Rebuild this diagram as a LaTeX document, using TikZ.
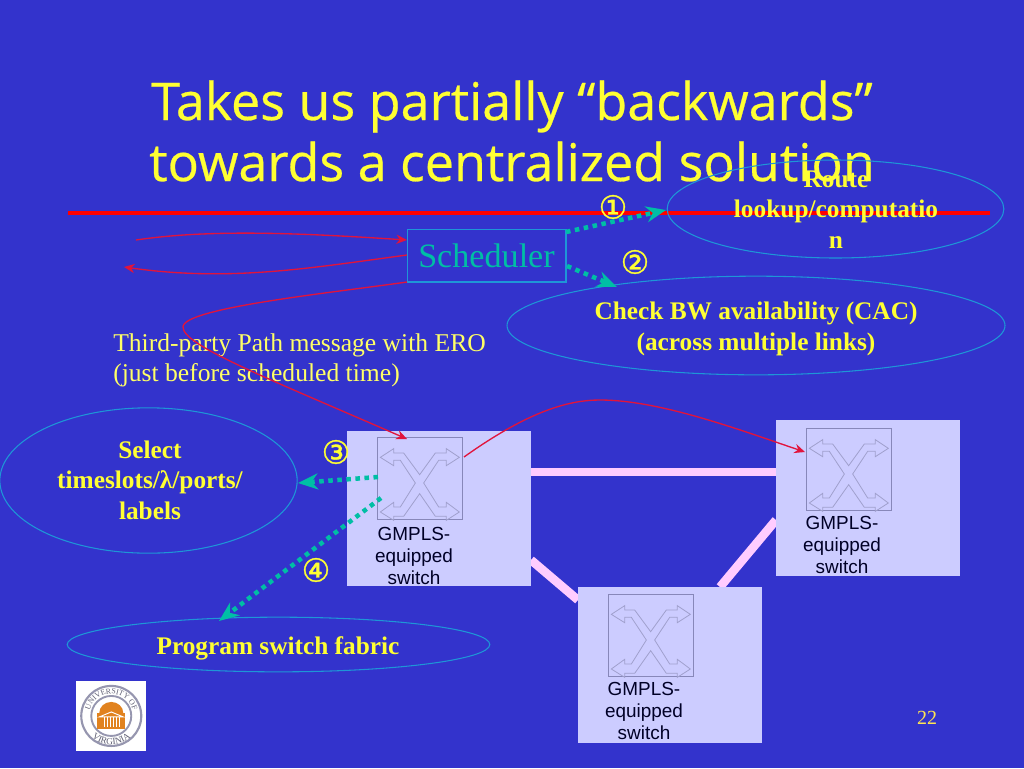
\documentclass[tikz,border=0pt]{standalone}
\usepackage{fontspec}
\setmainfont{Liberation Serif}
\newfontfamily\titlefont[FakeBold=0.5]{Open Sans}
\newfontfamily\armfont{Liberation Sans}
\newfontfamily\symfont[FakeBold=1.0]{DejaVu Sans}
\usetikzlibrary{arrows.meta,decorations.text,shapes.geometric}
\definecolor{bgblue}{RGB}{51,51,204}
\definecolor{ttl}{RGB}{255,255,51}
\definecolor{bodyy}{RGB}{255,255,102}
\definecolor{teal1}{RGB}{0,190,165}
\definecolor{edge}{RGB}{30,150,215}
\definecolor{boxc}{RGB}{204,204,255}
\definecolor{pinkl}{RGB}{255,204,255}
\definecolor{redc}{RGB}{225,20,60}
\definecolor{graysw}{RGB}{135,135,185}
\definecolor{grayx}{RGB}{160,160,205}
\definecolor{sealring}{RGB}{150,150,175}
\definecolor{sealtext}{RGB}{95,95,115}
\definecolor{sealorange}{RGB}{225,130,30}
\tikzset{
 x=0.75pt,y=-0.75pt,
 titletext/.style={font=\titlefont\fontsize{39}{45.75}\selectfont,text=ttl,inner sep=0pt,align=center},
 oval/.style={draw=edge,line width=0.8pt,shape=ellipse,inner sep=0pt},
 ovaltext/.style={font=\bfseries\fontsize{19}{23}\selectfont,text=ttl,align=center,inner sep=0pt},
 bodytext/.style={font=\fontsize{19.2}{22.5}\selectfont,text=bodyy,align=left,inner sep=0pt},
 swbox/.style={fill=boxc,draw=none,inner sep=0pt,anchor=north west},
 swlabel/.style={font=\armfont\fontsize{14.2}{16.5}\selectfont,text=black!85!blue,align=center,inner sep=0pt},
 num/.style={font=\symfont\fontsize{24}{24}\selectfont,text=ttl,inner sep=0pt},
 teallink/.style={draw=teal1,line width=3.4pt,dash pattern=on 3.4pt off 3.4pt,-{Stealth[length=15pt,width=12pt,fill=teal1]}},
 redlink/.style={draw=redc,line width=1pt,-{Stealth[length=8pt,width=7pt]}},
 pinklink/.style={draw=pinkl,line width=6.5pt},
 pics/xswitch/.style={code={
  \draw[graysw,line width=0.5pt] (0,0) rectangle (85,82);
  \begin{scope}[x=0.25pt,y=-0.25pt]
  \draw[grayx,line width=0.6pt] (10,61)--(50,35)--(50,48)--(80,48)--(128,113)--(175,48)--(208,48)--(208,35)--(247,61)--(208,86)--(208,70)--(185,70)--(140,138)--(185,210)--(208,210)--(208,196)--(247,225)--(208,250)--(208,238)--(175,238)--(128,170)--(80,238)--(50,238)--(50,250)--(10,225)--(50,196)--(50,210)--(70,210)--(115,138)--(70,70)--(50,70)--(50,86)--cycle;
  \end{scope}
 }}
}
\begin{document}
\begin{tikzpicture}
\useasboundingbox[fill=bgblue] (0,0) rectangle (1024,768);
% title
\node[titletext] (title) at (512,131) {Takes us partially “backwards”\\towards a centralized solution};
% rule
\coordinate (ruleL) at (68,213);
\coordinate (ruleR) at (990,213);
\draw[red,line width=3.7pt] (ruleL) -- (ruleR);
% links between switches
\coordinate (s1a) at (531,472); \coordinate (s2a) at (776,472);
\coordinate (s1b) at (531,560); \coordinate (s3b) at (578,600);
\coordinate (s3c) at (720,587); \coordinate (s2c) at (776,520);
\draw[pinklink] (s1a) -- (s2a);
\draw[pinklink] (s1b) -- (s3b);
\draw[pinklink] (s3c) -- (s2c);
% switch boxes
\node[swbox,minimum width=138pt,minimum height=116pt] (box1) at (347,431) {};
\node[swbox,minimum width=137.5pt,minimum height=117pt] (box2) at (776,420) {};
\node[swbox,minimum width=138pt,minimum height=117pt] (box3) at (578,587) {};
\pic at (377,437) {xswitch};
\pic at (806,428) {xswitch};
\pic at (608,594) {xswitch};
\node[swlabel] (lab1) at (414,556) {GMPLS-\\equipped\\switch};
\node[swlabel] (lab2) at (842,545) {GMPLS-\\equipped\\switch};
\node[swlabel] (lab3) at (644,711) {GMPLS-\\equipped\\switch};
% scheduler
\node[draw=edge,line width=1pt,minimum width=119pt,minimum height=39.5pt,inner sep=0pt,text=teal1,font=\fontsize{25.6}{25.6}\selectfont] (sched) at (486.5,255.5) {Scheduler};
% ovals
\node[oval,minimum width=252.5pt,minimum height=73.5pt] (route) at (835.5,209) {};
\node[ovaltext] (routet) at (836,209.5) {Route\\lookup/computatio\\n};
\node[oval,minimum width=373.5pt,minimum height=74pt] (bw) at (756,325.5) {};
\node[ovaltext] (bwt) at (756,329) {Check BW availability (CAC)\\(across multiple links)};
\node[oval,minimum width=223pt,minimum height=109pt] (sel) at (148.5,480.5) {};
\node[ovaltext] (selt) at (150,480) {Select\\timeslots/λ/ports/\\labels};
\node[oval,minimum width=317pt,minimum height=41pt] (prog) at (278.5,644.5) {};
\node[ovaltext] (progt) at (278,648) {Program switch fabric};
% body text
\node[bodytext,anchor=west] (third) at (113,360) {Third-party Path message with ERO\\(just before scheduled time)};
% numbers
\node[num] (n1) at (613,207) {①};
\node[num] (n2) at (635,262) {②};
\node[num] (n3) at (336,452) {③};
\node[num] (n4) at (316,570) {④};
% teal links
\coordinate (t1) at (566,232); \coordinate (t1e) at (666,210);
\coordinate (t2) at (567,266); \coordinate (t2e) at (617,287);
\coordinate (t3) at (378,477); \coordinate (t3e) at (298,483);
\coordinate (t4) at (381,498); \coordinate (t4e) at (219,621);
\draw[teallink] (t1) -- (t1e);
\draw[teallink] (t2) -- (t2e);
\draw[teallink] (t3) -- (t3e);
\draw[teallink] (t4) -- (t4e);
% red arrows
\coordinate (r1s) at (136,240); \coordinate (r1e) at (407,240);
\coordinate (r2s) at (407,255); \coordinate (r2e) at (124,267);
\coordinate (r3s) at (407,282); \coordinate (r3e) at (407,439);
\coordinate (r4s) at (464,457); \coordinate (r4e) at (805,452);
\draw[redlink] (r1s) .. controls (210,229) and (300,233) .. (r1e);
\draw[redlink] (r2s) .. controls (310,268) and (230,282) .. (r2e);
\draw[redlink] (r3s) .. controls (330,293) and (183,308) .. (183,327) .. controls (183,345) and (260,375) .. (r3e);
\draw[redlink] (r4s) .. controls (530,410) and (570,400) .. (600,400) .. controls (660,400) and (740,430) .. (r4e);
% page number
\node[font=\fontsize{15}{15}\selectfont,text=bodyy!80!orange,inner sep=0pt] (pg) at (927,718) {22};
% logo
\node[fill=white,minimum width=52.5pt,minimum height=52pt,inner sep=0pt,anchor=north west] (logo) at (76,681) {};
\begin{scope}[shift={(logo.center)},x=0.75pt,y=0.75pt]
 \draw[sealring,line width=1.6pt] (0,0) circle (30);
 \draw[sealring,line width=1.4pt] (0,0) circle (20);
 \path[postaction={decorate},decoration={text along path,text align=center,text={|\fontsize{5.8}{5.8}\selectfont\color{sealtext}|UNIVERSITY OF}}] (-22,-3) arc (188:-8:22.2);
 \path[postaction={decorate},decoration={text along path,text align=center,text={|\fontsize{7}{7}\selectfont\color{sealtext}|VIRGINIA}}] (-27,-9) arc (198:342:28.5);
 \fill[sealorange] (-14,-13) rectangle (14,3);
 \fill[sealorange] (-12,3) arc (180:0:12 and 11) -- cycle;
 \foreach \u in {-7,-4,-1,2,5,8} \draw[white,line width=0.6pt] (\u,-11) -- (\u,-1);
 \draw[white,line width=0.7pt] (-12,-1) -- (0,4) -- (12,-1) -- cycle;
\end{scope}
\end{tikzpicture}
\end{document}
